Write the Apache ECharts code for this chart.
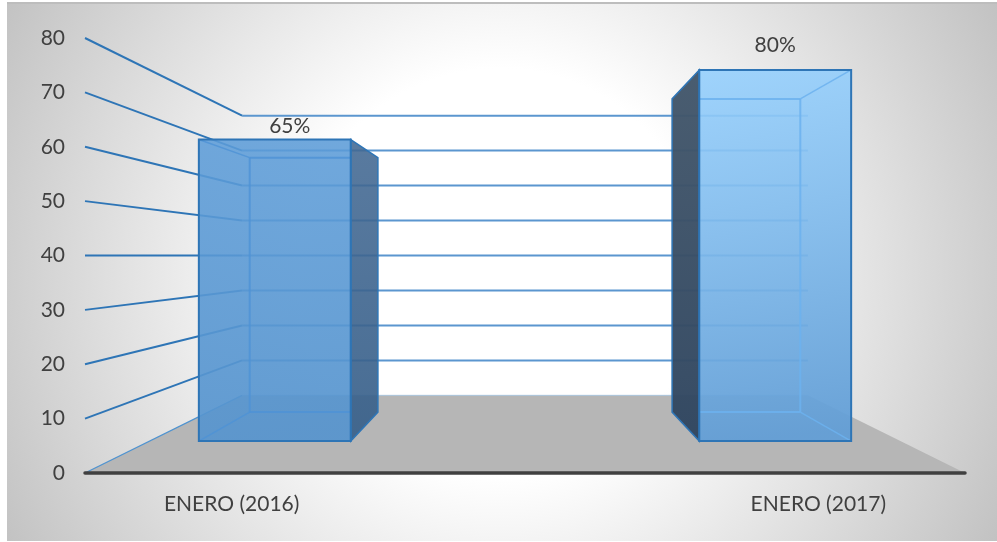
<!DOCTYPE html>
<html><head><meta charset="utf-8">
<style>html,body{margin:0;padding:0;background:#fff}#c{width:997px;height:542px}</style>
<script src="https://cdn.jsdelivr.net/npm/echarts@6/dist/echarts.min.js"></script>
</head><body><div id="c"></div>
<script>
const categories = ['ENERO (2016)', '', 'ENERO (2017)'];
const percentValues = [65, null, 80];
const yTicks = [0, 10, 20, 30, 40, 50, 60, 70, 80];

// perspective depths: 1 = front plane (axis), smaller = further back
const DEPTH_BACK = 0.643, DEPTH_BAR_FRONT = 0.853, DEPTH_BAR_BACK = 0.72, BAR_BAND = 0.607;
const barStyles = [
  {top:'rgba(92,156,216,.87)', bottom:'rgba(86,148,206,.92)', side:['rgba(66,104,146,.88)','rgba(56,96,138,.92)'], inner:'rgba(78,146,214,.8)', labelDx:15, labelDy:-13},
  null,
  {top:'rgba(150,208,253,.9)', bottom:'rgba(98,158,214,.94)', side:['rgba(68,88,108,.97)','rgba(48,70,96,.97)'], inner:'rgba(108,178,238,.85)', labelDx:0, labelDy:-25}
];

function projector(params, api) {
  const cs = params.coordSys;
  const xc = cs.x + cs.width / 2;
  const yc = cs.y + cs.height / 2;
  return (x, y, k) => [xc + (x - xc) * k, yc + (y - yc) * k];
}

function renderWall(params, api) {
  const p = projector(params, api);
  const cs = params.coordSys;
  const y = api.coord([0, api.value(1)])[1];
  const L = cs.x, R = cs.x + cs.width;
  const a = [L, y], b = p(L, y, DEPTH_BACK), c = p(R, y, DEPTH_BACK);
  const children = [];
  if (api.value(1) === 0) {
    const d = [R, y];
    children.push({type:'polygon', shape:{points:[a, b, c, d]}, style:{fill:'#b6b6b6'}});
    children.push({type:'line', shape:{x1:a[0],y1:a[1],x2:b[0],y2:b[1]}, style:{stroke:'#4f93d0',lineWidth:1.3}});
    children.push({type:'line', shape:{x1:b[0],y1:b[1],x2:c[0],y2:c[1]}, style:{stroke:'#a9c4dc',lineWidth:1}});
  } else {
    children.push({type:'line', shape:{x1:a[0],y1:a[1],x2:b[0],y2:b[1]}, style:{stroke:'#2e75b6',lineWidth:2}});
    children.push({type:'line', shape:{x1:b[0],y1:b[1],x2:c[0],y2:c[1]}, style:{stroke:'#5b96cf',lineWidth:2}});
  }
  return {type:'group', children};
}

function renderBar(params, api) {
  const v = api.value(1);
  if (v == null || isNaN(v)) return null;
  const s = barStyles[params.dataIndex];
  const p = projector(params, api);
  const cx = api.coord([api.value(0), 0])[0];
  const y0 = api.coord([0, 0])[1], yv = api.coord([0, v])[1];
  const hw = api.size([1, 0])[0] * BAR_BAND / 2;
  const xl = cx - hw, xr = cx + hw;
  const fTL = p(xl, yv, DEPTH_BAR_FRONT), fTR = p(xr, yv, DEPTH_BAR_FRONT);
  const fBL = p(xl, y0, DEPTH_BAR_FRONT), fBR = p(xr, y0, DEPTH_BAR_FRONT);
  const bTL = p(xl, yv, DEPTH_BAR_BACK), bTR = p(xr, yv, DEPTH_BAR_BACK);
  const bBL = p(xl, y0, DEPTH_BAR_BACK), bBR = p(xr, y0, DEPTH_BAR_BACK);
  const cs = params.coordSys;
  const leftOfCentre = cx < cs.x + cs.width / 2;
  const sidePts = leftOfCentre ? [fTR, bTR, bBR, fBR] : [fTL, bTL, bBL, fBL];
  const grad = (a, b, x2, y2) => new echarts.graphic.LinearGradient(0, 0, x2, y2, [{offset:0,color:a},{offset:1,color:b}]);
  const edge = '#2e75b6';
  const ln = (a, b, stroke, w) => ({type:'line', shape:{x1:a[0],y1:a[1],x2:b[0],y2:b[1]}, style:{stroke, lineWidth:w}});
  const innerNear = leftOfCentre ? [bTL, bBL] : [bTR, bBR];
  const farDiagTop = leftOfCentre ? [fTL, bTL] : [fTR, bTR];
  const farDiagBot = leftOfCentre ? [fBL, bBL] : [fBR, bBR];
  // back edges stop at the front face's edge next to the dark side
  const sideEdgeX = leftOfCentre ? fTR[0] : fTL[0];
  return {type:'group', children:[
    {type:'polygon', shape:{points:sidePts}, style:{fill:grad(s.side[0], s.side[1], 0, 1), stroke:edge, lineWidth:1.5}},
    {type:'polygon', shape:{points:[fTL, fTR, fBR, fBL]}, style:{fill:grad(s.top, s.bottom, 0.25, 1)}},
    ln([innerNear[0][0], bTL[1]], [sideEdgeX, bTL[1]], s.inner, 2),
    ln([innerNear[1][0], bBL[1]], [sideEdgeX, bBL[1]], s.inner, 2),
    ln(innerNear[0], innerNear[1], s.inner, 2),
    ln(farDiagTop[0], farDiagTop[1], s.inner, 1.5), ln(farDiagBot[0], farDiagBot[1], s.inner, 1.5),
    {type:'polygon', shape:{points:[fTL, fTR, fBR, fBL]}, style:{fill:'none', stroke:edge, lineWidth:2}},
    {type:'text', x:(fTL[0]+fTR[0])/2 + s.labelDx, y:fTL[1] + s.labelDy,
      style:{text:v + '%', font:'21px Lato', fill:'#404040', align:'center', verticalAlign:'middle'}}
  ]};
}

const chart = echarts.init(document.getElementById('c'), null, {renderer:'canvas'});
chart.setOption({
  animation:false,
  backgroundColor:'#fff',
  textStyle:{fontFamily:'Lato'},
  graphic:[
    {type:'rect', z:-10, shape:{x:7,y:3,width:990,height:538},
     style:{fill:new echarts.graphic.RadialGradient(500,272,565,[
       {offset:0,color:'#ffffff'},{offset:0.36,color:'#ffffff'},{offset:1,color:'#c2c2c2'}],true)}},
    {type:'line', z:-9, shape:{x1:7,y1:3,x2:997,y2:3}, style:{stroke:'#bdbdbd',lineWidth:2}}
  ],
  grid:{left:85,right:32,top:38,height:435,containLabel:false},
  xAxis:{type:'category',data:categories,z:5,
    axisLine:{show:true,lineStyle:{color:'#404040',width:3.5,cap:'round'}},
    axisTick:{show:false},splitLine:{show:false},
    axisLabel:{color:'#404040',fontSize:21,fontFamily:'Lato',margin:21,interval:0}},
  yAxis:{type:'value',min:0,max:80,interval:10,
    axisLine:{show:false},axisTick:{show:false},splitLine:{show:false},
    axisLabel:{color:'#404040',fontSize:21,fontFamily:'Lato',margin:20,padding:[6,0,0,0]}},
  series:[
    {type:'custom',coordinateSystem:'cartesian2d',z:2,renderItem:renderWall,silent:true,
     data:yTicks.map(t=>[0,t]),encode:{x:0,y:1}},
    {type:'custom',coordinateSystem:'cartesian2d',z:3,renderItem:renderBar,silent:true,
     data:percentValues.map((v,i)=>[i,v]),encode:{x:0,y:1}}
  ]
});
</script></body></html>
